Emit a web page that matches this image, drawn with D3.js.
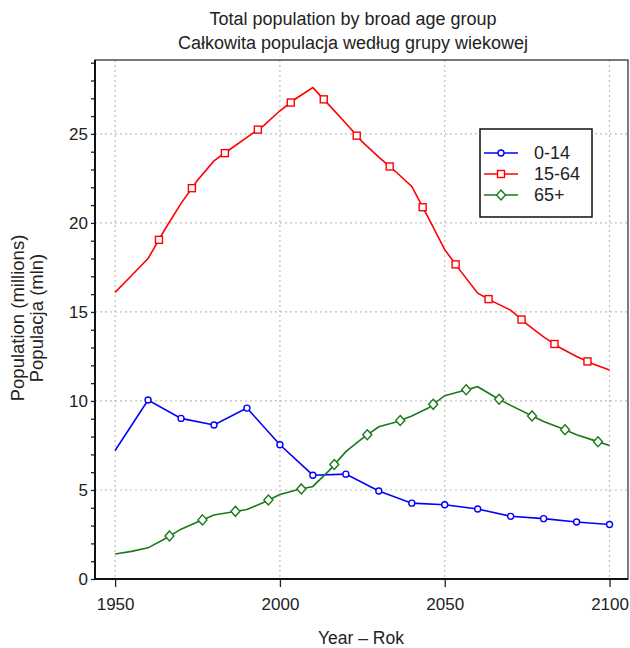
<!DOCTYPE html>
<html><head><meta charset="utf-8">
<script src="https://cdn.jsdelivr.net/npm/d3@7"></script>
<style>body{margin:0;background:#fff}svg{display:block}text{font-family:"Liberation Sans",Arial,sans-serif;fill:#222}</style>
</head><body><div id="chart"></div>
<script>
// ---- data ----
const years = [1950,1955,1960,1965,1970,1975,1980,1985,1990,1995,2000,2005,2010,2015,2020,2025,2030,2035,2040,2045,2050,2055,2060,2065,2070,2075,2080,2085,2090,2095,2100];
const age0_14Years = [1950,1960,1970,1980,1990,2000,2010,2020,2030,2040,2050,2060,2070,2080,2090,2100];
const age0_14 = [7.22,10.05,9.02,8.65,9.6,7.54,5.83,5.89,4.94,4.26,4.17,3.93,3.52,3.39,3.2,3.06];
const age15_64 = [16.1,17.05,18.0,19.6,21.1,22.4,23.48,24.15,24.8,25.45,26.3,27.0,27.6,26.6,25.6,24.55,23.7,22.9,22.05,20.3,18.5,17.25,16.05,15.55,15.1,14.3,13.6,12.99,12.5,12.08,11.74];
const age65 = [1.4,1.55,1.75,2.25,2.8,3.2,3.6,3.75,3.9,4.3,4.75,5.0,5.2,6.1,7.15,7.9,8.55,8.8,9.15,9.6,10.3,10.55,10.8,10.25,9.75,9.3,8.85,8.5,8.1,7.8,7.5];
const age0_14MarkYears = [1960,1970,1980,1990,2000,2010,2020,2030,2040,2050,2060,2070,2080,2090,2100];
const age0_14Marks = [10.05,9.02,8.65,9.6,7.54,5.83,5.89,4.94,4.26,4.17,3.93,3.52,3.39,3.2,3.06];
const age15_64MarkYears = [1963.3,1973.3,1983.3,1993.3,2003.3,2013.3,2023.3,2033.3,2043.3,2053.3,2063.3,2073.3,2083.3,2093.3];
const age15_64Marks = [19.05,21.95,23.92,25.24,26.76,26.94,24.9,23.17,20.88,17.67,15.72,14.57,13.2,12.22];
const age65MarkYears = [1966.5,1976.5,1986.5,1996.5,2006.5,2016.5,2026.5,2036.5,2046.5,2056.5,2066.5,2076.5,2086.5,2096.5];
const age65Marks = [2.42,3.32,3.8,4.44,5.06,6.43,8.1,8.9,9.81,10.63,10.1,9.16,8.38,7.71];
const seriesNames = ["0-14","15-64","65+"];
const xTicks = [1950,2000,2050,2100];
const yTicks = [0,5,10,15,20,25];
const titleLines = ["Total population by broad age group","Całkowita populacja według grupy wiekowej"];
const yLabelLines = ["Population (millions)","Populacja (mln)"];
const xLabel = "Year – Rok";

// ---- layout ----
const W = 630, H = 648;
const L = 95, R = 628, T = 60, B = 579;
const colors = ["#0000ff","#ff0000","#1a7a1a"];
const svg = d3.select("#chart").append("svg").attr("width",W).attr("height",H);
const x = d3.scaleLinear().domain([1943.9,2105.6]).range([L,R]);
const y = d3.scaleLinear().domain([0,29.15]).range([B,T]);

// grid
const g = svg.append("g");
g.selectAll(".vg").data(xTicks).join("line")
  .attr("x1",d=>x(d)).attr("x2",d=>x(d)).attr("y1",T).attr("y2",B)
  .attr("stroke","#bdbdbd").attr("stroke-width",1.2).attr("stroke-dasharray","2,3");
g.selectAll(".hg").data(yTicks.filter(d=>d>0)).join("line")
  .attr("x1",L).attr("x2",R).attr("y1",d=>y(d)).attr("y2",d=>y(d))
  .attr("stroke","#bdbdbd").attr("stroke-width",1.2).attr("stroke-dasharray","2,3");

// axes
const xAxis = d3.axisBottom(x).tickValues(xTicks).tickFormat(d3.format("d")).tickSize(8).tickPadding(11);
const ax = svg.append("g").attr("transform",`translate(0,${B})`).call(xAxis);
ax.select(".domain").remove();
ax.selectAll("line").attr("stroke","#222").attr("stroke-width",1.3);
ax.selectAll("text").attr("font-size",17).attr("fill","#222");

const yMinor = d3.axisLeft(y).tickValues(d3.range(0,30,1)).tickSize(4).tickFormat("");
const aym = svg.append("g").attr("transform",`translate(${L},0)`).call(yMinor);
aym.select(".domain").remove();
aym.selectAll("line").attr("stroke","#222").attr("stroke-width",1.3);
const yAxis = d3.axisLeft(y).tickValues(yTicks).tickSize(4).tickPadding(3);
const ay = svg.append("g").attr("transform",`translate(${L},0)`).call(yAxis);
ay.select(".domain").remove();
ay.selectAll("line").remove();
ay.selectAll("text").attr("font-size",17).attr("fill","#222");

// frame
svg.append("rect").attr("x",L).attr("y",T).attr("width",R-L).attr("height",B-T)
  .attr("fill","none").attr("stroke","#333").attr("stroke-width",1.3);
svg.append("line").attr("x1",L).attr("x2",L).attr("y1",T).attr("y2",B+1).attr("stroke","#111").attr("stroke-width",2);
svg.append("line").attr("x1",L).attr("x2",R).attr("y1",B).attr("y2",B).attr("stroke","#111").attr("stroke-width",2);

// lines
const line = d3.line().x(d=>x(d[0])).y(d=>y(d[1]));
const lineData = [
  d3.zip(age0_14Years, age0_14),
  d3.zip(years, age15_64),
  d3.zip(years, age65)
];
const markData = [
  d3.zip(age0_14MarkYears, age0_14Marks),
  d3.zip(age15_64MarkYears, age15_64Marks),
  d3.zip(age65MarkYears, age65Marks)
];
function marker(sel, i, cx, cy){
  if(i===0) sel.append("circle").attr("cx",cx).attr("cy",cy).attr("r",3);
  else if(i===1) sel.append("rect").attr("x",cx-3.5).attr("y",cy-3.5).attr("width",7).attr("height",7);
  else sel.append("path").attr("d",`M${cx},${cy-5}L${cx+4.5},${cy}L${cx},${cy+5}L${cx-4.5},${cy}Z`);
}
const plot = svg.append("g");
lineData.forEach((ld,i)=>{
  plot.append("path").datum(ld).attr("d",line).attr("fill","none")
    .attr("stroke",colors[i]).attr("stroke-width",1.6);
});
markData.forEach((md,i)=>{
  const mg = plot.append("g").attr("fill","#fff").attr("stroke",colors[i]).attr("stroke-width",1.4);
  md.forEach(d=>marker(mg,i,x(d[0]),y(d[1])));
});

// legend
const lg = svg.append("g");
lg.append("rect").attr("x",480).attr("y",129).attr("width",112).attr("height",88)
  .attr("fill","#fff").attr("stroke","#111").attr("stroke-width",1.5);
seriesNames.forEach((nm,i)=>{
  const ly = 153 + i*21;
  lg.append("line").attr("x1",484).attr("x2",518).attr("y1",ly).attr("y2",ly)
    .attr("stroke",colors[i]).attr("stroke-width",1.6);
  const mg = lg.append("g").attr("fill","#fff").attr("stroke",colors[i]).attr("stroke-width",1.4);
  marker(mg,i,501,ly);
  lg.append("text").attr("x",534).attr("y",ly).attr("dy","0.36em").attr("font-size",18).text(nm);
});

// titles
svg.append("text").attr("x",353).attr("y",25).attr("text-anchor","middle").attr("font-size",18).text(titleLines[0]);
svg.append("text").attr("x",353).attr("y",49).attr("text-anchor","middle").attr("font-size",18).text(titleLines[1]);
svg.append("text").attr("x",361).attr("y",644).attr("text-anchor","middle").attr("font-size",17.5).text(xLabel);
yLabelLines.forEach((t,i)=>{
  svg.append("text").attr("transform",`translate(${24+i*19},318) rotate(-90)`)
    .attr("text-anchor","middle").attr("font-size",18.5).text(t);
});
</script></body></html>
